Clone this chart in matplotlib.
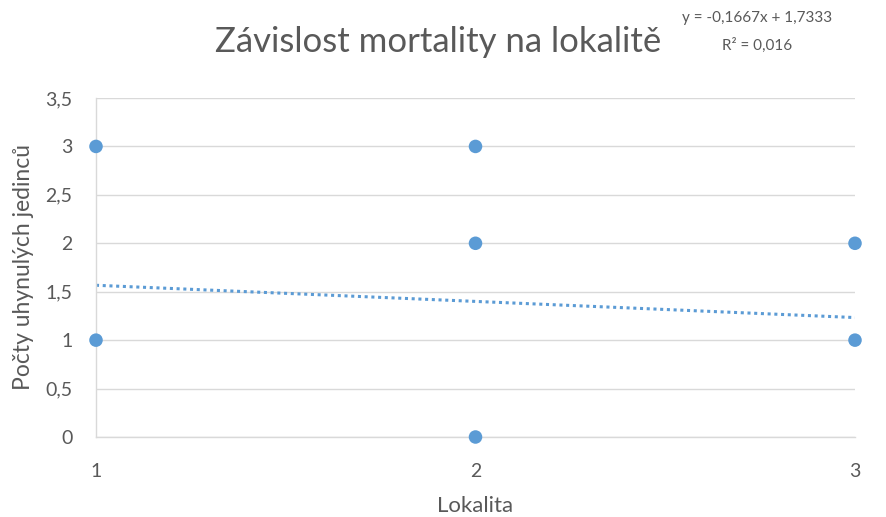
import matplotlib
matplotlib.use("Agg")
import matplotlib.pyplot as plt
import numpy as np

# data
lokalita = [1, 1, 2, 2, 2, 3, 3]
uhynuli = [3, 1, 3, 2, 0, 2, 1]
slope = -0.1667
intercept = 1.7333
r2_text = "R² = 0,016"
eq_text = "y = -0,1667x + 1,7333"
yticks = [0, 0.5, 1, 1.5, 2, 2.5, 3, 3.5]
ytick_labels = ["0", "0,5", "1", "1,5", "2", "2,5", "3", "3,5"]
xticks = [1, 2, 3]

plt.rcParams['font.family'] = ['Lato', 'DejaVu Sans']
blue = '#5B9BD5'
grey = '#595959'

fig = plt.figure(figsize=(8.86, 5.17), dpi=100)
ax = fig.add_axes([96/886, 1-437/517, (855-96)/886, (437-98)/517])

ax.set_xlim(1, 3)
ax.set_ylim(0, 3.5)
ax.set_yticks(yticks)
ax.set_yticklabels(ytick_labels)
ax.set_xticks(xticks)
ax.grid(axis='y', color='#D9D9D9', linewidth=1)
ax.set_axisbelow(True)
for s in ['top', 'right']:
    ax.spines[s].set_visible(False)
for s in ['left', 'bottom']:
    ax.spines[s].set_color('#D9D9D9')
    ax.spines[s].set_linewidth(1)
ax.tick_params(length=0, labelsize=14, colors=grey)
ax.tick_params(axis='y', pad=17)
ax.tick_params(axis='x', pad=19)

xs = np.array([1, 3])
ax.plot(xs, slope*xs + intercept, linestyle=(0, (1, 1.2)), color=blue, linewidth=2.2, zorder=2)
ax.scatter(lokalita, uhynuli, s=95, color=blue, zorder=3, clip_on=False, edgecolors='none')

ax.set_xlabel("Lokalita", fontsize=16, color=grey, labelpad=11)
ax.set_ylabel("Počty uhynulých jedinců", fontsize=16.5, color=grey, labelpad=8)

fig.text(438/886, 1-42/517, "Závislost mortality na lokalitě", fontsize=25, color=grey,
         ha='center', va='center')
fig.text(757/886, 1-18/517, eq_text, fontsize=11, color=grey, ha='center', va='center')
fig.text(757/886, 1-45/517, r2_text, fontsize=11, color=grey, ha='center', va='center')

fig.savefig("out.png", dpi=100)
